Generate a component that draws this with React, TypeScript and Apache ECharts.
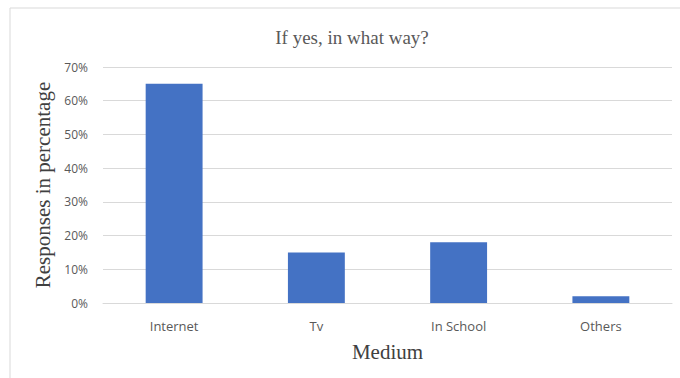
import React, { useEffect, useRef } from "react";
import * as echarts from "echarts";

const categories = ["Internet", "Tv", "In School", "Others"];
const responses = [65, 15, 18, 2];
const titleText = "If yes, in what way?";
const yAxisName = "Responses in percentage";
const xAxisName = "Medium";

export default function App() {
  const ref = useRef<HTMLDivElement>(null);
  useEffect(() => {
    if (!ref.current) return;
    const chart = echarts.init(ref.current, null, { renderer: "svg" });
    chart.setOption({
      animation: false,
      backgroundColor: "#ffffff",
      graphic: [
        {
          type: "rect",
          shape: { x: 10, y: 8, width: 690, height: 400 },
          style: { fill: "none", stroke: "#d9d9d9", lineWidth: 1 },
          silent: true,
          z: -1,
        },
      ],
      title: {
        text: titleText,
        left: 347,
        top: 23,
        textAlign: "center",
        textStyle: {
          fontFamily: "Liberation Serif",
          fontSize: 19,
          fontWeight: "normal",
          color: "#595959",
        },
      },
      grid: { left: 103, right: 8, top: 67, bottom: 75 },
      xAxis: {
        type: "category",
        data: categories,
        name: xAxisName,
        nameLocation: "middle",
        nameGap: 38,
        nameTextStyle: {
          fontFamily: "Liberation Serif",
          fontSize: 21,
          color: "#404040",
        },
        axisLine: { lineStyle: { color: "#d9d9d9" } },
        axisTick: { show: false },
        axisLabel: {
          margin: 16,
          fontFamily: "Open Sans",
          fontSize: 13,
          color: "#595959",
        },
      },
      yAxis: {
        type: "value",
        min: 0,
        max: 70,
        interval: 10,
        name: yAxisName,
        nameLocation: "middle",
        nameGap: 46,
        nameTextStyle: {
          fontFamily: "Liberation Serif",
          fontSize: 21,
          color: "#404040",
        },
        axisLine: { show: false },
        axisTick: { show: false },
        splitLine: { lineStyle: { color: "#d9d9d9" } },
        axisLabel: {
          margin: 15,
          formatter: "{value}%",
          fontFamily: "Open Sans",
          fontSize: 12,
          color: "#595959",
        },
      },
      series: [
        {
          type: "bar",
          data: responses,
          barWidth: "40%",
          itemStyle: { color: "#4472C4" },
        },
      ],
    });
    return () => chart.dispose();
  }, []);
  return (
    <div
      ref={ref}
      style={{ position: "fixed", left: 0, top: 0, width: 680, height: 378 }}
    />
  );
}
